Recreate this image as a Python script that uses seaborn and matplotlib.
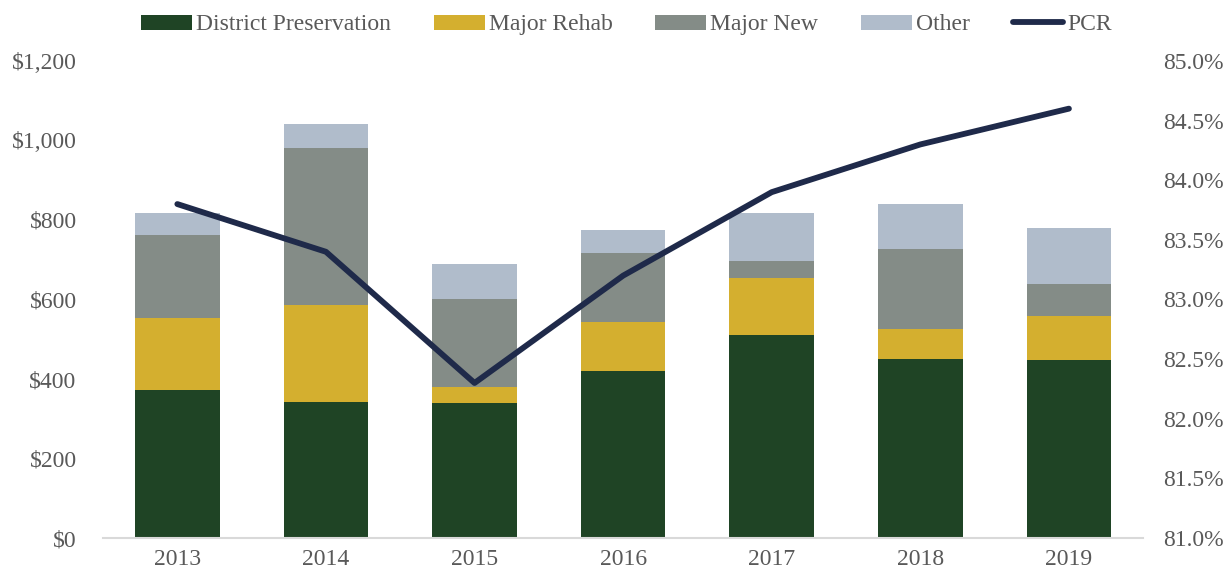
import numpy as np
import pandas as pd
import seaborn as sns
import matplotlib.pyplot as plt
from matplotlib.patches import Patch
from matplotlib.lines import Line2D
from matplotlib.ticker import FuncFormatter

years = ["2013", "2014", "2015", "2016", "2017", "2018", "2019"]
district_preservation = [372, 341, 339, 420, 511, 451, 449]
major_rehab = [182, 244, 41, 123, 144, 74, 109]
major_new = [209, 397, 220, 174, 42, 202, 80]
other = [54, 59, 90, 58, 121, 114, 142]
pcr = [83.8, 83.4, 82.3, 83.2, 83.9, 84.3, 84.6]

series = ["District Preservation", "Major Rehab", "Major New", "Other"]
colors = ["#1f4425", "#d4af2f", "#848c87", "#b0bccb"]
line_color = "#1f2a4a"
text_color = "#595959"

df = pd.DataFrame({
    "year": years,
    "District Preservation": district_preservation,
    "Major Rehab": major_rehab,
    "Major New": major_new,
    "Other": other,
})
# cumulative tops for stacking
cum = df[series].cumsum(axis=1)

sns.set_style("white")
plt.rcParams["font.family"] = ["Liberation Serif", "DejaVu Serif"]

fig = plt.figure(figsize=(12.31, 5.75), dpi=100)
ax = fig.add_axes([0.0837, 0.0643, 0.845, 0.8297])

# draw from the top layer down so each lower layer covers the one above
for name, col in reversed(list(zip(series, colors))):
    sns.barplot(x=df["year"], y=cum[name], color=col, width=0.57,
                saturation=1, ax=ax, edgecolor="none", zorder=2)

ax.set_ylim(0, 1200)
ax.set_xlim(-0.5, len(years) - 0.5)
ax.set_yticks(np.arange(0, 1201, 200))
ax.yaxis.set_major_formatter(FuncFormatter(lambda v, p: f"${v:,.0f}"))
ax.set_xlabel("")
ax.set_ylabel("")
for s in ["top", "right", "left"]:
    ax.spines[s].set_visible(False)
ax.spines["bottom"].set_color("#d9d9d9")
ax.spines["bottom"].set_linewidth(1.5)
ax.tick_params(axis="both", length=0, labelsize=17, labelcolor=text_color)
ax.tick_params(axis="y", pad=19)
ax.tick_params(axis="x", pad=8)

ax2 = ax.twinx()
sns.lineplot(x=np.arange(len(years)), y=pcr, color=line_color, linewidth=4.2,
             ax=ax2, zorder=3)
ax2.set_ylim(81, 85)
ax2.set_yticks(np.arange(81, 85.01, 0.5))
ax2.yaxis.set_major_formatter(FuncFormatter(lambda v, p: f"{v:.1f}%"))
for s in ["top", "right", "left", "bottom"]:
    ax2.spines[s].set_visible(False)
ax2.tick_params(axis="y", length=0, labelsize=17, labelcolor=text_color, pad=14)

handles = [Patch(facecolor=c, edgecolor="none") for c in colors]
handles.append(Line2D([0], [0], color=line_color, linewidth=4.2))
fig.legend(handles, series + ["PCR"], loc="upper center", ncol=5,
           bbox_to_anchor=(0.509, 1.012), frameon=False, fontsize=17,
           labelcolor=text_color, handlelength=2.15, handleheight=0.6,
           handletextpad=0.17, columnspacing=1.82)

fig.savefig("out.png", dpi=100)
